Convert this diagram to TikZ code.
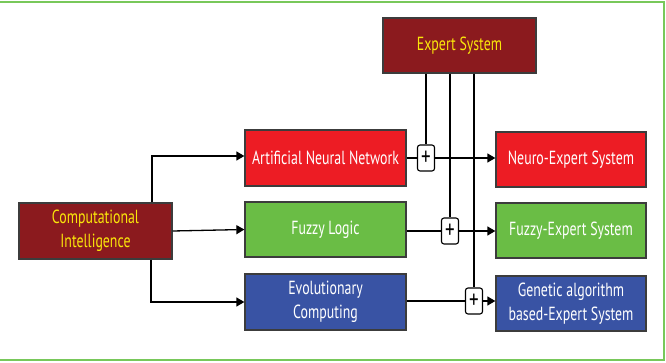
\documentclass[tikz,border=0pt]{standalone}
\usepackage{fontspec}
\setmainfont{PT Sans}[FakeStretch=0.73]
\usetikzlibrary{arrows.meta,calc}
\definecolor{cired}{RGB}{139,26,30}
\definecolor{bred}{RGB}{237,28,36}
\definecolor{bgreen}{RGB}{106,189,69}
\definecolor{bblue}{RGB}{57,83,164}
\definecolor{ytext}{RGB}{250,230,10}
\definecolor{frame}{RGB}{120,200,90}
\definecolor{bord}{RGB}{60,60,60}
\begin{document}
\begin{tikzpicture}[x=1pt,y=-1pt,
  box/.style={draw=bord,line width=1.3pt,minimum width=#1,inner sep=1pt,align=center,
    font=\fontsize{19}{24}\selectfont},
  box/.default=153pt,
  dk/.style={box=153pt,fill=cired,text=ytext,minimum height=55pt},
  mid/.style={box=161pt,minimum height=55pt,text=white},
  rt/.style={box=150pt,minimum height=55pt,text=white},
  plusbox/.style={draw=black,fill=white,line width=1.1pt,rounded corners=2.5pt,
    minimum width=17pt,minimum height=26pt,inner sep=0pt,font=\fontsize{26}{26}\selectfont},
  conn/.style={line width=1.3pt,draw=black},
  arr/.style={conn,-{Triangle[length=8pt,width=9pt]}}]
\useasboundingbox (0,0) rectangle (666,363);
\draw[frame,line width=1.2pt] (0,2) -- (664,2) -- (664,360) -- (0,360);
% nodes
\node[dk,minimum height=56pt] (CI) at (95.5,231) {Computational\\Intelligence};
\node[dk] (ES) at (459.5,45.5) {Expert System};
\node[mid,fill=bred,minimum height=56pt] (ANN) at (325.5,158) {Artificial Neural Network};
\node[mid,fill=bgreen] (FL) at (325.5,229.5) {\raisebox{3pt}{Fuzzy Logic}};
\node[mid,fill=bblue,minimum height=56pt] (EC) at (325.5,302) {Evolutionary\\Computing};
\node[rt,fill=bred] (NES) at (571,159.5) {Neuro-Expert System};
\node[rt,fill=bgreen] (FES) at (571,230.5) {Fuzzy-Expert System};
\node[rt,fill=bblue] (GES) at (571,303.5) {Genetic algorithm\\based-Expert System};
\node[plusbox] (P1) at (426,158) {+};
\node[plusbox] (P2) at (450,231) {+};
\node[plusbox] (P3) at (474,301) {+};
% connectors from CI
\coordinate (c1) at (152,0);
\coordinate (c3) at (151,0);
\draw[arr] (CI.north -| c1) |- ([yshift=2pt]ANN.west);
\draw[arr] (CI.east) -- (FL.west);
\draw[arr] (CI.south -| c3) |- (EC.west);
% expert system feeds
\draw[conn] (ES.south -| P1) -- (P1.north);
\draw[conn] (ES.south -| P2) -- (P2.north);
\draw[conn] (ES.south -| P3) -- (P3.north);
% through plus boxes
\draw[conn] (ANN.east |- P1) -- (P1.west);
\draw[arr] (P1.east) -- (NES.west |- P1);
\draw[conn] (FL.east |- P2) -- (P2.west);
\draw[arr] (P2.east) -- (FES.west |- P2);
\draw[conn] (EC.east |- P3) -- (P3.west);
\draw[arr] (P3.east) -- (GES.west |- P3);
\end{tikzpicture}
\end{document}
